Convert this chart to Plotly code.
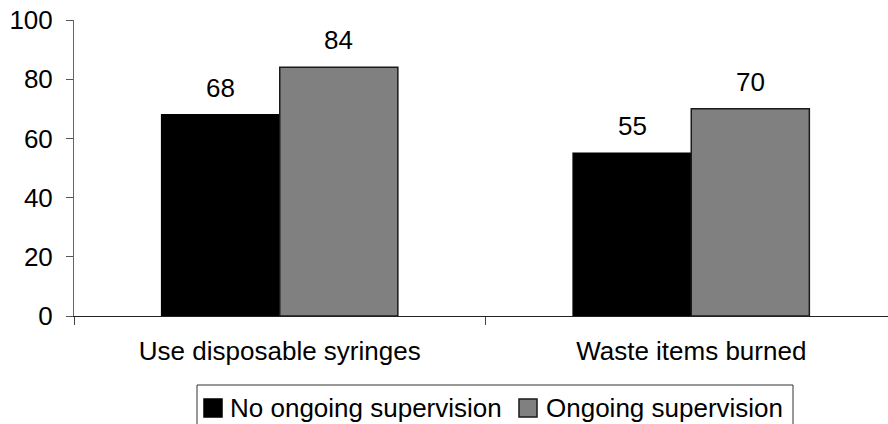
import plotly.graph_objects as go

# Data
categories = ["Use disposable syringes", "Waste items burned"]
series_names = ["No ongoing supervision", "Ongoing supervision"]
no_supervision = [68, 55]
ongoing_supervision = [84, 70]
y_ticks = [0, 20, 40, 60, 80, 100]

FONT = "Liberation Sans, Arial, sans-serif"
FS = 26
W, H = 888, 424
ML, MT, MB = 74, 20, 108
PLOT_W = W - ML
PLOT_H = H - MT - MB
BARGAP = 0.426

fills = ["#000000", "#808080"]
edges = ["#000000", "#1a1a1a"]


def px(xpix):
    return (xpix - ML) / PLOT_W


def py(ypix):
    return (H - MB - ypix) / PLOT_H


fig = go.Figure()
for name, vals, fill, edge in zip(series_names, [no_supervision, ongoing_supervision], fills, edges):
    fig.add_trace(go.Bar(
        x=categories, y=vals, name=name,
        marker=dict(color=fill, line=dict(color=edge, width=1.5)),
        showlegend=False,
    ))

# value labels above each bar, placed on the axis scale
bar_w = (1 - BARGAP) / 2
annotations = []
for s, vals in enumerate([no_supervision, ongoing_supervision]):
    offset = (s - 0.5) * bar_w
    for i, v in enumerate(vals):
        annotations.append(dict(
            x=i + offset, y=v, xref="x", yref="y", text=str(v),
            showarrow=False, yanchor="middle", yshift=27,
            font=dict(family=FONT, size=FS, color="#000"),
        ))

# legend box at the bottom
leg_y = 408
shapes = [dict(type="rect", xref="paper", yref="paper",
               x0=px(197), x1=px(793), y0=py(440), y1=py(385),
               line=dict(color="#333", width=1), fillcolor="white", layer="above")]
legend_items = [(204, 228), (519, 544)]
for (sq_x, txt_x), name, fill, edge in zip(legend_items, series_names, fills, edges):
    shapes.append(dict(type="rect", xref="paper", yref="paper",
                       x0=px(sq_x), x1=px(sq_x + 18), y0=py(leg_y + 9), y1=py(leg_y - 9),
                       fillcolor=fill, line=dict(color=edge, width=1.5), layer="above"))
    annotations.append(dict(
        x=px(txt_x), y=py(leg_y), xref="paper", yref="paper", text=name,
        xanchor="left", yanchor="middle", showarrow=False,
        font=dict(family=FONT, size=FS, color="#000"),
    ))

fig.update_layout(
    width=W, height=H, autosize=False,
    margin=dict(l=ML, r=0, t=MT, b=MB, pad=0),
    paper_bgcolor="white", plot_bgcolor="white",
    barmode="group", bargap=BARGAP, bargroupgap=0,
    font=dict(family=FONT, size=FS, color="#000"),
    annotations=annotations, shapes=shapes,
    showlegend=False,
)
fig.update_xaxes(
    type="category", range=[-0.5, -0.5 + PLOT_W / 411.5],
    tickson="boundaries", ticks="outside", ticklen=8, tickcolor="#444", tickwidth=1,
    showline=True, linecolor="#222", linewidth=1, showgrid=False,
    tickfont=dict(family=FONT, size=FS, color="#000"), ticklabelstandoff=12,
)
fig.update_yaxes(
    range=[0, 100], tickvals=y_ticks, ticks="outside", ticklen=7, tickcolor="#555", tickwidth=1,
    showline=True, linecolor="#666", linewidth=1, showgrid=False, zeroline=False,
    tickfont=dict(family=FONT, size=FS, color="#000"), ticklabelstandoff=8,
)

fig.write_html("out.html")
